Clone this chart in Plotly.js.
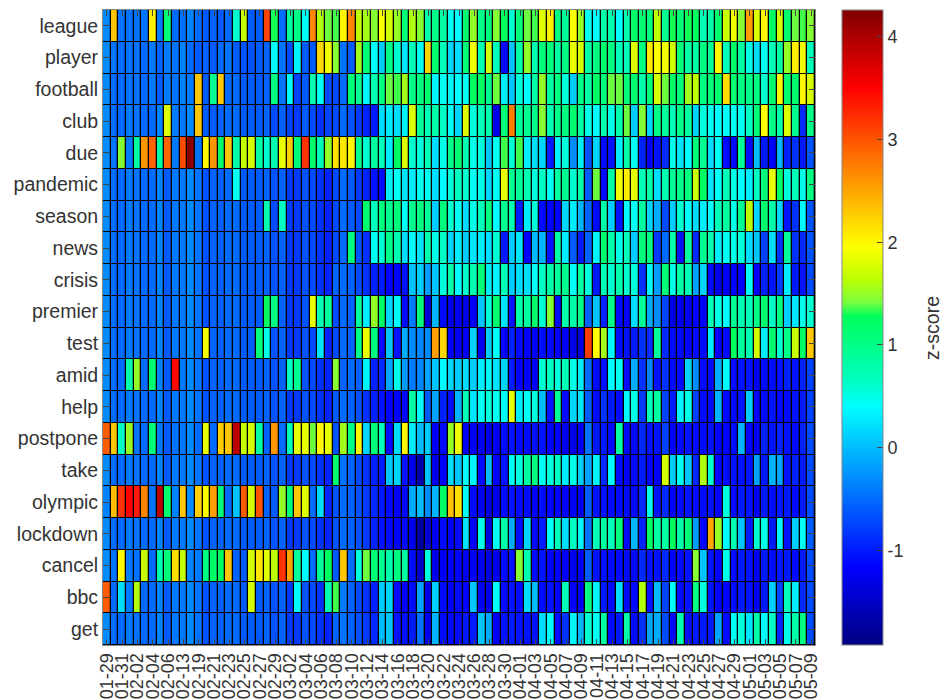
<!DOCTYPE html>
<html><head><meta charset="utf-8">
<script src="https://cdn.plot.ly/plotly-3.0.1.min.js"></script>
<style>html,body{margin:0;padding:0;background:#fff}#c{width:945px;height:700px}</style>
</head><body><div id="c"></div>
<script>
const words=["league","player","football","club","due","pandemic","season","news","crisis","premier","test","amid","help","postpone","take","olympic","lockdown","cancel","bbc","get"];
const dateLabels=["01-29","01-31","02-02","02-04","02-06","02-13","02-19","02-21","02-23","02-25","02-27","02-29","03-02","03-04","03-06","03-08","03-10","03-12","03-14","03-16","03-18","03-20","03-22","03-24","03-26","03-28","03-30","04-01","04-03","04-05","04-07","04-09","04-11","04-13","04-15","04-17","04-19","04-21","04-23","04-25","04-27","04-29","05-01","05-03","05-05","05-07","05-09"];
const colorTicks=[-1,0,1,2,3,4];
const colorTickText=["-1","0","1","2","3","4"];
const colorStops=[[-1.92,"#000080"],[-1.16,"#0000ff"],[0.41,"#00ffff"],[0.67,"#00ffbe"],[1.28,"#00ff5a"],[1.42,"#7dff3c"],[1.65,"#beff00"],[1.96,"#ffff00"],[2.73,"#ff8000"],[3.5,"#ff0000"],[4.26,"#800000"]];
const league=[-.3,2.3,-.45,-.45,-.45,-.45,2.05,-.4,1.1,-.5,-.45,-.35,-.5,-.6,-.55,-.6,-.5,.6,1.7,-.6,-.6,3.1,1.3,-.5,.85,1.0,.45,2.7,1.6,1.4,1.35,
2.0,2.7,1.65,1.55,1.45,1.95,1.75,1.5,1.1,1.6,1.45,.8,1.0,.85,.45,.42,1.15,1.5,1.0,1.05,1.45,1.25,.6,1.1,1.4,1.35,1.8,2.05,1.05,.9,
1.95,1.5,.45,.4,.8,.75,.42,.75,1.2,1.15,1.1,1.65,.95,1.3,1.1,1.3,1.25,.7,.8,1.15,1.7,1.9,1.45,2.55,1.8,2.0,1.2,1.75,1.15,1.4,1.35,1.45];
const player=[-.3,-.45,-.5,-.45,-.45,-.5,-.4,-.55,-.4,-.45,-.35,-.5,-.6,-.55,-.6,-.5,-.45,-.6,-.65,-.65,-.6,-.55,.4,-.45,-.7,.35,-.6,-.6,2.2,1.9,1.45,
-.45,-.6,1.55,1.1,.4,.1,1.0,.6,.25,.7,.45,2.2,1.15,.7,.15,.2,1.1,1.9,.75,1.75,.7,-1.1,.05,.8,1.5,.75,1.1,1.1,.85,1.05,
1.85,1.75,.85,1.05,1.15,1.05,.7,.7,1.8,1.05,2.1,1.95,1.9,1.75,1.1,.85,.85,1.05,.95,2.0,.7,1.2,.85,.5,.2,.45,.7,.85,1.5,2.05,1.9,.7];
const football=[-.3,-.5,-.5,-.45,-.45,-.5,-.4,-.6,-.4,-.45,-.35,-.4,2.3,-.6,.95,2.3,-.5,-.5,-.6,-.6,-.6,-.55,1.05,-.45,.4,-.75,-.6,.75,.45,-.7,-.7,
-.5,1.1,.95,.35,.75,1.05,1.4,1.35,1.55,1.0,1.05,1.15,.35,.45,.35,.42,.45,1.25,1.25,.95,1.4,.3,.05,.55,.42,.8,1.5,.85,1.05,.55,
.1,1.0,.85,1.2,1.1,1.4,1.4,1.1,1.15,.8,1.1,1.75,1.4,1.2,1.1,1.55,1.65,1.05,1.1,1.15,2.15,1.15,1.05,1.0,1.05,.6,1.15,2.0,1.15,1.15,2.0,1.75];
const club=[-.3,-.5,-.5,-.4,-.45,-.5,-.5,-.35,1.8,-.4,-.4,-.3,2.3,-.6,-.6,-.55,-.5,-.5,-.6,-.6,-.6,-.55,-.7,-.55,-.75,-.8,-.6,-.7,-.85,-.75,-.7,
-.5,-.65,-.8,-.95,-1.0,.2,.3,.2,.35,1.8,.9,.7,.8,.65,.4,.15,1.8,.55,.7,.75,-1.3,1.1,2.75,.9,.95,1.0,1.45,.75,1.0,1.05,
1.15,.85,.5,.4,.75,.5,.75,1.4,.1,1.45,.15,1.0,.9,.7,1.0,.85,.15,.55,.45,.4,.4,.45,.45,.65,1.1,1.95,1.0,.8,1.8,.95,-.9,1.0];
const due=[-.3,-.45,1.45,-.4,.85,2.6,2.9,.85,2.9,-.4,3.05,4.2,-.45,2.0,2.6,1.2,2.3,.8,1.7,1.75,.85,.6,.75,1.85,2.25,1.1,3.2,1.2,.7,1.5,2.15,
2.1,2.0,.95,.6,.85,.7,.3,1.2,1.8,.6,.55,.7,.2,.5,1.0,1.15,.75,.5,.55,.05,.45,1.35,.6,1.35,.3,.2,.15,-1.0,.35,.55,
-.3,.3,-.65,.15,-1.1,-1.05,.3,.8,.45,-.95,-1.2,-1.05,-.9,.5,.25,.4,1.1,.95,.2,.45,-1.1,-1.1,.9,-1.1,0,-1.0,-1.15,-.05,-.95,-.85,-1.0,-.65];
const pandemic=[-.3,-.5,-.5,-.4,-.45,-.5,-.5,-.35,-.6,-.4,-.4,-.3,-.45,-.65,-.55,-.55,-.5,.45,-.6,-.6,-.6,-.55,-.65,-.55,-.8,-.8,-.65,-.7,-.85,-.95,-.7,
-.5,-.6,-.8,-.95,-1.05,-1.1,.3,.45,.25,.3,.45,.45,.2,.4,.55,.65,.6,.45,.5,.15,.45,1.85,.95,.9,.75,.55,.65,.45,.85,.95,
.6,.8,-.6,1.4,-1.1,.85,1.9,2.05,1.85,.7,.8,.2,.75,.9,1.0,1.05,1.7,1.2,.25,.45,.7,.5,.4,.3,.65,1.1,1.85,1.2,.55,.7,.5,1.05];
const season=[-.3,-.5,-.5,-.4,-.45,-.5,-.5,-.35,-.6,-.4,-.4,-.3,-.45,-.65,-.55,-.55,-.5,-.5,-.6,-.6,-.6,.75,-.7,.65,-.8,-.8,-.65,-.7,-.85,-.95,-.7,
-.5,-.6,-.7,1.15,.7,1.05,.95,1.1,.45,.95,1.05,.9,.1,1.1,.6,.45,.2,.5,.7,1.05,.4,.95,.75,-1.0,.3,.55,-1.1,-1.15,-1.15,.15,
.3,-.05,-.55,-1.1,.8,.1,-1.05,.4,.45,.85,.15,-.1,-.7,.1,.6,.4,.2,.3,.4,.7,.85,.5,.95,1.65,.15,1.15,.8,.15,-1.05,-.85,.4,-.65];
const news=[-.3,-.5,-.5,-.4,-.45,-.5,-.5,-.35,-.6,-.4,-.4,-.3,-.45,-.65,-.55,-.55,-.5,-.5,-.6,-.6,-.6,-.55,-.65,-.55,-.8,-.8,-.65,-.7,-.85,-.95,-.7,
-.5,1.05,-.65,-.85,.45,.6,1.0,.75,.2,.4,.25,.75,.5,.65,.15,.3,.1,.25,.3,.2,.6,-1.0,.1,.25,-1.15,0,-.05,-1.05,.8,.3,
-.6,-1.0,-.55,.35,1.15,.8,.5,.7,.1,1.1,1.05,-.8,-.5,.8,-1.05,.85,-.9,.95,.75,.3,.45,.5,.55,.2,.05,-.75,.2,-.85,.9,-.85,-.9,-.65];
const crisis=[-.3,-.5,-.5,-.4,-.45,-.5,-.5,-.35,-.6,-.4,-.4,-.3,-.45,-.65,-.55,-.55,-.5,-.5,-.6,-.6,-.6,-.55,-.65,-.55,-.8,-.8,-.65,-.7,-.85,-.95,-.55,
-.5,-.55,-.7,-.85,-.95,-1.0,-1.15,-1.15,-1.05,.05,.1,-.2,.05,.55,.8,.4,.6,.75,1.1,.3,.35,.7,.1,.2,.2,.45,.65,.8,.9,.95,
.45,.85,.55,-1.0,.7,.6,.75,.6,.55,-.85,.4,-.2,1.1,.5,.8,.7,-.15,.15,-1.1,-1.3,-1.2,-1.15,-1.15,.4,-1.15,-.95,-1.05,-.8,.3,-1.0,-1.05,-.7];
const premier=[-.3,-.5,-.5,-.4,-.45,-.5,-.5,-.35,-.6,-.4,-.4,-.3,-.45,-.65,-.55,-.55,-.5,-.5,-.6,-.6,-.6,1.25,1.05,-.55,-.8,-.8,-.65,1.85,.75,.9,-.7,
-.5,-.55,.85,.3,1.5,1.2,.15,.4,-1.1,-.4,1.1,-1.35,-.05,-1.1,-1.25,-1.2,-1.3,-1.2,.05,.55,1.15,.25,-1.05,.8,.85,1.15,.6,1.45,-1.1,.8,
.8,1.0,-.55,.05,-.95,1.0,-1.1,-1.15,.2,.9,-.1,-.3,-.75,-1.3,-1.25,-1.25,-1.15,-1.15,.7,.5,.4,.95,.75,.7,1.0,1.15,.65,1.05,.1,.25,.5,.6];
const test=[-.3,-.5,-.5,-.4,-.45,-.5,-.5,-.35,-.6,-.4,-.4,-.3,-.45,1.9,-.55,-.55,-.5,-.5,-.6,-.6,1.1,.5,-.65,-.55,-.8,-.8,-.65,-.7,.25,-.95,-.7,
-.5,-.55,1.0,1.85,1.05,-1.1,.05,-1.05,-.1,-.3,-.35,-.3,2.55,2.2,-1.15,-1.2,-1.2,.15,-1.25,.1,.4,-1.15,-.95,-1.1,-1.15,-1.15,-1.1,-1.1,-1.2,-1.2,
-1.3,-1.35,3.15,1.98,1.55,.35,-1.1,-1.05,-1.0,-.85,-.9,.9,-.9,-1.1,-1.1,-1.15,-1.1,-1.1,.3,-1.2,-1.1,1.25,.9,.75,1.75,.3,1.15,.6,1.0,1.7,1.2,2.3];
const amid=[-.3,-.5,-.5,.8,1.5,-.5,1.15,-.35,-.6,3.45,-.4,-.3,-.45,-.65,-.55,-.55,-.5,-.5,-.6,-.6,-.6,-.55,-.65,-.55,.65,.95,-.65,-.7,-.85,-.95,1.45,
-.55,-.5,-.55,.35,-.95,-.9,-.15,.5,-.2,-.4,-.35,-.15,.05,.4,.15,.1,.2,.1,.3,.35,.25,.15,-1.0,-1.15,-1.15,-1.15,.6,.65,.55,.7,
.5,.3,-.5,-1.1,-1.05,.4,.45,-1.1,-.1,-.85,-.35,-1.05,-.85,-1.1,-1.1,.15,-.3,-1.1,-1.1,-.1,.4,-1.1,-1.05,-1.05,-1.2,-1.1,-1.1,-1.05,-.95,-1.05,-.95,-.75];
const help=[-.3,-.5,-.5,-.4,-.45,-.5,-.5,-.35,-.6,-.4,-.4,-.3,-.45,-.65,-.55,-.55,-.5,-.5,-.6,-.6,-.6,-.55,-.65,-.55,-.8,-.8,-.65,-.7,-.85,-.95,-.6,
-.5,-.55,-.65,-.85,-.95,-1.05,-1.15,-1.15,-1.1,.85,.4,-.6,-.15,-.95,-1.1,-.05,.7,.25,.45,.55,.45,.45,1.85,.3,.45,.55,0,-1.05,.9,-1.1,
.15,.25,-.6,-1.1,-.85,-1.0,-1.1,.4,.5,-.8,.7,.85,-.75,-1.0,.35,.5,-.75,-1.1,-1.1,-.05,-1.1,-1.1,-1.05,.1,-1.15,-1.1,-1.05,-1.1,-1.1,-1.05,-1.0,-.75];
const postpone=[2.95,2.3,.65,1.5,-.45,-.5,1.1,-.4,-.6,-.45,-.4,-.3,-.5,1.85,-.5,2.25,2.3,3.9,1.7,1.75,.85,-.55,2.6,-.5,.7,1.85,1.85,1.4,2.0,1.85,-.65,
1.55,1.05,2.0,.15,1.1,.7,-1.1,.2,2.0,.3,0,.1,-1.2,-1.1,1.5,1.9,-1.25,-1.2,-1.25,-1.3,-1.2,-1.1,-1.05,-1.1,-1.1,-1.05,-1.05,-1.15,-1.15,-1.25,
-1.3,-1.2,-.45,-1.0,-1.0,-1.1,.85,-1.1,-1.1,-.9,-1.05,-1.05,-.75,-1.15,-1.1,-1.05,-1.1,-1.1,-1.05,-1.2,-1.15,-1.1,-.05,-1.15,-1.2,-.95,-1.05,-.95,-1.05,-1.1,-.95,-.7];
const take=[-.3,-.5,-.5,-.4,-.45,-.5,-.5,-.35,-.6,-.4,-.4,-.3,-.45,-.65,-.55,-.55,-.5,-.5,-.6,-.6,-.6,-.55,-.65,-.55,-.8,-.8,-.65,-.7,-.85,-.95,1.15,
-.45,-.55,-.7,-.85,-.95,-1.0,.05,.15,-1.05,-1.25,-1.65,.05,-1.3,-1.15,.2,.05,.4,.35,-1.1,0,-1.15,-1.05,.45,.55,.85,1.05,.45,.55,.65,.3,
.5,.1,-.15,.35,-.9,.4,-1.1,-1.15,-1.1,-1.0,-1.15,-1.2,1.75,.1,.45,.05,-.9,1.6,.6,-1.15,-1.1,-1.05,-1.05,-1.05,-.15,-1.0,-.05,-.15,-1.05,-.95,-1.0,-.7];
const olympic=[-.35,2.35,3.2,3.5,3.35,2.7,-.45,3.9,1.15,-.35,2.3,-.3,2.25,1.95,2.55,1.1,-.5,.05,2.95,1.75,3.0,-.55,-.6,1.5,1.1,2.3,1.8,-.5,.2,-.95,-.65,
-.5,-.55,-.65,-.8,-.9,-1.0,-1.1,-1.2,-1.1,-.1,0,-.3,-.05,1.2,2.35,2.15,.45,-1.1,-1.25,-1.35,-1.25,-1.1,-1.05,-1.1,-1.1,-1.15,-1.1,-1.15,-1.15,-1.2,
-1.2,-1.25,-.6,-1.05,-1.05,-1.1,-1.1,-1.1,-1.1,-.9,.5,-1.05,-.9,-1.15,-1.1,-1.05,-1.1,-1.1,-1.05,-1.2,.55,-1.1,-1.0,-1.05,-1.2,-1.0,-1.1,-1.0,-1.0,-1.1,-1.0,-.7];
const lockdown=[-.3,-.5,-.5,-.4,-.45,-.5,-.5,-.35,-.6,-.4,-.4,-.3,-.45,-.65,-.55,-.55,-.5,-.5,-.6,-.6,-.6,-.55,-.65,-.55,-.8,-.8,-.65,-.7,-.85,-.95,-.65,
-.5,-.55,-.65,-.8,-.95,-1.05,-1.1,-1.15,-1.1,-1.25,-1.75,-1.4,-1.25,-1.1,-1.15,-1.1,.25,-1.15,.5,-1.35,.45,.8,-.1,-1.1,.15,-1.1,-1.0,.45,.7,.2,
.65,.35,-.45,.7,.85,.7,1.1,-1.1,-.05,-.95,1.2,.85,.85,1.25,.8,1.1,-.2,-1.15,2.5,1.5,.4,.75,.05,-1.0,.6,.5,-1.0,.35,-1.05,.1,.45,-.6];
const cancel=[-.3,-.45,1.98,-.4,-.45,1.7,-.5,.75,1.1,2.15,1.7,-.35,-.4,1.05,1.2,1.25,2.3,-.55,-.6,1.75,2.1,1.8,1.65,3.2,2.5,.9,.4,-.5,.9,1.25,-.6,
2.3,-.5,.55,1.4,1.1,.95,.8,1.05,.85,-1.1,-1.5,.55,-1.3,-1.2,-1.15,-1.15,-1.25,-1.2,-1.25,-1.35,-1.25,-1.1,-1.05,1.45,.75,-1.1,-1.05,-1.15,-1.15,-1.2,
-1.25,-1.2,-.6,-1.05,-1.05,-1.1,-1.1,-1.1,-1.1,-.9,-1.05,-1.05,-.9,-1.15,-1.1,-1.05,1.45,.05,-1.05,-1.2,.5,-1.1,-1.0,-1.05,-1.2,-1.0,-1.1,-1.0,-1.0,-1.1,-1.0,-.7];
const bbc=[2.95,-.5,.2,-.4,1.6,-.5,-.5,-.35,-.6,-.4,-.4,-.3,-.45,-.65,-.55,-.55,-.5,-.5,-.6,1.75,-.6,-.55,-.65,-.55,-.8,.4,-.65,-.7,-.85,.75,1.35,
-.4,-.55,-.7,-.85,-.95,.1,.15,-1.1,-1.15,-1.1,-.15,-1.3,.1,-1.1,-1.15,-1.1,-1.15,.05,-1.25,-1.3,.4,-1.1,-1.05,-1.1,.2,0,-1.1,-1.05,-1.15,.7,
-1.2,-1.25,1.05,.35,-1.0,-1.1,.2,-1.1,-1.1,1.6,-1.05,0,-.75,.4,-1.1,-1.05,1.05,.55,-1.05,-1.2,-1.15,-1.1,-1.0,-1.05,-1.2,-1.0,.1,-.75,.7,.3,-.9,-.7];
const get=[-.3,-.5,-.5,-.4,-.45,-.5,-.5,-.35,-.6,-.4,-.4,-.3,-.45,-.65,-.55,-.55,-.5,-.5,-.6,-.6,-.6,-.55,-.65,-.55,-.8,-.8,-.65,-.7,-.85,-.95,-.55,
-.45,-.55,-.65,-.8,-.9,0,.05,-1.05,-1.05,-1.0,-.45,-1.25,-.05,-1.1,-1.1,-1.1,-1.0,-1.0,.05,-.1,-1.2,-1.05,-1.0,-1.05,-1.05,-1.05,.2,.4,-1.1,-.85,
.35,-.05,.6,.45,.85,-1.1,-1.0,.8,-1.1,-.85,-.15,-.1,-.7,-1.1,.75,-1.1,-1.0,-1.0,-1.0,-.15,-1.1,.45,.55,.25,.8,.4,.65,-.95,.5,.8,1.05,-.7];
const rows=[league,player,football,club,due,pandemic,season,news,crisis,premier,test,amid,help,postpone,take,olympic,lockdown,cancel,bbc,get];
const zMin=colorStops[0][0], zMax=colorStops[colorStops.length-1][0];
const scale=colorStops.map(s=>[(s[0]-zMin)/(zMax-zMin),s[1]]);
const cols=rows[0].map((_,i)=>i);
const fam='"Liberation Sans",Arial,sans-serif';
const font=(size)=>({family:fam,size:size,color:'#333'});
Plotly.newPlot('c',[{type:'heatmap',z:rows,x:cols,y:words.map((_,i)=>i),zmin:zMin,zmax:zMax,colorscale:scale,xgap:1.3,ygap:1,
 hoverongaps:false,
 colorbar:{thicknessmode:'pixels',thickness:41,lenmode:'pixels',len:635,x:1.0386,xanchor:'left',xpad:0,ypad:0,y:.5,yanchor:'middle',
  tickmode:'array',tickvals:colorTicks,ticktext:colorTickText,ticks:'inside',ticklen:6,tickcolor:'#444',tickfont:font(18),outlinecolor:'#888',outlinewidth:1}}],
 {width:945,height:700,margin:{l:103,r:129.5,t:10,b:55,pad:0},paper_bgcolor:'#fff',plot_bgcolor:'#000',
  annotations:[{text:'z-score',xref:'paper',yref:'paper',x:1.1635,y:.5,xanchor:'center',yanchor:'middle',textangle:-90,showarrow:false,font:font(19.5)}],
  xaxis:{range:[-.5,92.5],tickmode:'array',tickvals:dateLabels.map((_,i)=>i*2),ticktext:dateLabels,tickangle:-90,ticks:'inside',ticklen:6,tickcolor:'#444',mirror:'ticks',showline:true,linecolor:'#888',showgrid:false,zeroline:false,tickfont:font(18)},
  yaxis:{range:[19.5,-.5],tickmode:'array',tickvals:words.map((_,i)=>i),ticktext:words,ticks:'inside',ticklen:6,tickcolor:'#444',mirror:'ticks',showline:true,linecolor:'#888',showgrid:false,zeroline:false,tickfont:font(19.5)}
 },{displayModeBar:false});
</script></body></html>
